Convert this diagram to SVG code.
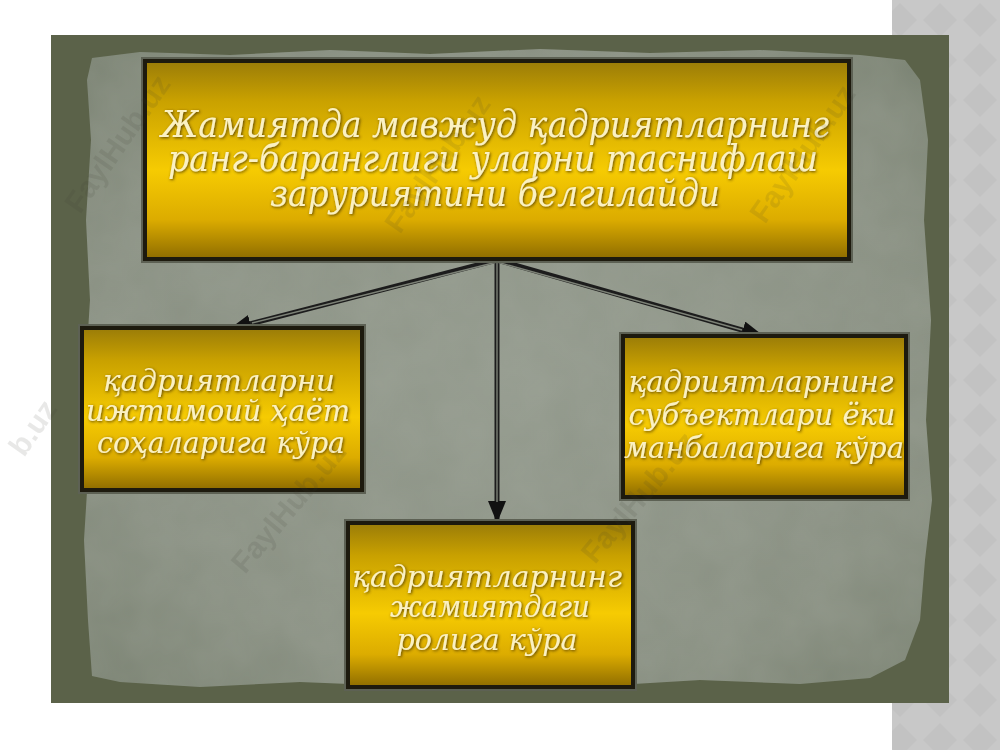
<svg xmlns="http://www.w3.org/2000/svg" width="1000" height="750" viewBox="0 0 1000 750">
  <defs>
    <pattern id="diam" width="40" height="40" patternUnits="userSpaceOnUse">
      <rect width="40" height="40" fill="#c8c8c8"/>
      <path d="M20 3 L37 20 L20 37 L3 20 Z" fill="#c2c2c2"/>
    </pattern>
    <linearGradient id="gold" x1="0" y1="0" x2="0" y2="1">
      <stop offset="0" stop-color="#9a7c08"/>
      <stop offset="0.2" stop-color="#c9a100"/>
      <stop offset="0.55" stop-color="#f6cb02"/>
      <stop offset="0.8" stop-color="#dcac00"/>
      <stop offset="1" stop-color="#8e6c00"/>
    </linearGradient>
    <radialGradient id="paper" cx="0.5" cy="0.5" r="0.7">
      <stop offset="0" stop-color="#939a8d"/>
      <stop offset="0.7" stop-color="#899082"/>
      <stop offset="1" stop-color="#7a8272"/>
    </radialGradient>
    <filter id="glow" x="-10%" y="-30%" width="120%" height="160%">
      <feGaussianBlur in="SourceAlpha" stdDeviation="1.6" result="b"/>
      <feFlood flood-color="#4a3400" flood-opacity="0.9"/>
      <feComposite in2="b" operator="in" result="s"/>
      <feOffset dx="1" dy="1" result="o"/>
      <feMerge><feMergeNode in="o"/><feMergeNode in="SourceGraphic"/></feMerge>
    </filter>
    <filter id="rough" x="0" y="0" width="100%" height="100%">
      <feTurbulence type="fractalNoise" baseFrequency="0.02" numOctaves="3" seed="4"/>
      <feColorMatrix type="matrix" values="0 0 0 0 0.5  0 0 0 0 0.52  0 0 0 0 0.47  0 0 0 0.2 0"/>
      <feComposite in2="SourceGraphic" operator="in"/>
    </filter>
    <marker id="ah" viewBox="0 0 22 18" markerWidth="22" markerHeight="18" refX="21" refY="9" orient="auto" markerUnits="userSpaceOnUse">
      <path d="M0 0 L22 9 L0 18 Z" fill="#111"/>
    </marker>
    <style>
      .box { fill: url(#gold); stroke: #1d1a0e; stroke-width: 4; }
      .halo { fill: none; stroke: #5d6154; stroke-width: 2; }
      .t { font-family: "DejaVu Serif", "Liberation Serif", serif; font-style: italic; fill: #fbf1c2; text-anchor: middle; filter: url(#glow); }
      .big { font-size: 37px; }
      .sm { font-size: 30px; }
      .wm { font-family: "Liberation Sans", Arial, sans-serif; font-weight: bold; font-size: 30px; fill: #3a3a30; opacity: 0.11; }
      .ln { fill: none; stroke: #1c1c1c; stroke-width: 5; }
      .lc { fill: none; stroke: #7d8277; stroke-width: 1.4; }
    </style>
  </defs>

  <rect width="1000" height="750" fill="#ffffff"/>
  <rect x="892" y="0" width="108" height="750" fill="url(#diam)"/>

  <!-- frame -->
  <rect x="51" y="35" width="898" height="668" fill="#5b6249"/>
  <path d="M92 58 L140 52 L230 55 L330 50 L430 54 L540 49 L650 53 L760 50 L860 55 L905 60 L920 80 L928 140 L924 220 L931 320 L926 420 L932 500 L925 560 L920 620 L905 660 L870 678 L800 684 L700 680 L600 686 L500 681 L400 686 L300 682 L200 687 L120 682 L92 676 L88 620 L84 540 L89 460 L85 380 L90 300 L86 220 L91 140 L87 80 Z" fill="url(#paper)"/>
  <path d="M92 58 L140 52 L230 55 L330 50 L430 54 L540 49 L650 53 L760 50 L860 55 L905 60 L920 80 L928 140 L924 220 L931 320 L926 420 L932 500 L925 560 L920 620 L905 660 L870 678 L800 684 L700 680 L600 686 L500 681 L400 686 L300 682 L200 687 L120 682 L92 676 L88 620 L84 540 L89 460 L85 380 L90 300 L86 220 L91 140 L87 80 Z" fill="#888" filter="url(#rough)"/>

  <!-- connectors -->
  <g id="connectors">
    <path class="ln" d="M497 260 L230 329" marker-end="url(#ah)"/>
    <path class="ln" d="M497 260 L497 522" marker-end="url(#ah)"/>
    <path class="ln" d="M497 260 L763 336" marker-end="url(#ah)"/>
    <path class="lc" d="M497 262 L252 323"/>
    <path class="lc" d="M497 262 L497 502"/>
    <path class="lc" d="M497 262 L742 330"/>
  </g>

  <g id="node-top">
    <rect class="halo" x="142" y="58" width="710" height="204"/>
    <rect class="box" x="145" y="61" width="704" height="198"/>
    <text class="t big" x="495" y="137" textLength="668" lengthAdjust="spacingAndGlyphs">Жамиятда мавжуд қадриятларнинг</text>
    <text class="t big" x="493" y="171" textLength="650" lengthAdjust="spacingAndGlyphs">ранг-баранглиги уларни таснифлаш</text>
    <text class="t big" x="495" y="206" textLength="450" lengthAdjust="spacingAndGlyphs">заруриятини белгилайди</text>
  </g>

  <g id="node-left">
    <rect class="halo" x="79" y="325" width="286" height="168"/>
    <rect class="box" x="82" y="328" width="280" height="162"/>
    <text class="t sm" x="219" y="391" textLength="232" lengthAdjust="spacingAndGlyphs">қадриятларни</text>
    <text class="t sm" x="218" y="421" textLength="264" lengthAdjust="spacingAndGlyphs">ижтимоий ҳаёт</text>
    <text class="t sm" x="221" y="453" textLength="248" lengthAdjust="spacingAndGlyphs">соҳаларига кўра</text>
  </g>

  <g id="node-right">
    <rect class="halo" x="620" y="333" width="289" height="167"/>
    <rect class="box" x="623" y="336" width="283" height="161"/>
    <text class="t sm" x="761" y="392" textLength="265" lengthAdjust="spacingAndGlyphs">қадриятларнинг</text>
    <text class="t sm" x="762" y="425" textLength="267" lengthAdjust="spacingAndGlyphs">субъектлари ёки</text>
    <text class="t sm" x="764" y="458" textLength="280" lengthAdjust="spacingAndGlyphs">манбаларига кўра</text>
  </g>

  <g id="node-bottom">
    <rect class="halo" x="345" y="520" width="291" height="170"/>
    <rect class="box" x="348" y="523" width="285" height="164"/>
    <text class="t sm" x="487" y="587" textLength="270" lengthAdjust="spacingAndGlyphs">қадриятларнинг</text>
    <text class="t sm" x="490" y="617" textLength="200" lengthAdjust="spacingAndGlyphs">жамиятдаги</text>
    <text class="t sm" x="487" y="650" textLength="181" lengthAdjust="spacingAndGlyphs">ролига кўра</text>
  </g>

  <!-- watermarks -->
  <g id="watermarks">
    <text class="wm" transform="translate(80 215) rotate(-55)">FaylHub.uz</text>
    <text class="wm" transform="translate(400 235) rotate(-55)">FaylHub.uz</text>
    <text class="wm" transform="translate(765 225) rotate(-55)">FaylHub.uz</text>
    <text class="wm" transform="translate(24 458) rotate(-55)">b.uz</text>
    <text class="wm" transform="translate(245 575) rotate(-50)">FaylHub.uz</text>
    <text class="wm" transform="translate(595 565) rotate(-50)">FaylHub.uz</text>
  </g>
</svg>
